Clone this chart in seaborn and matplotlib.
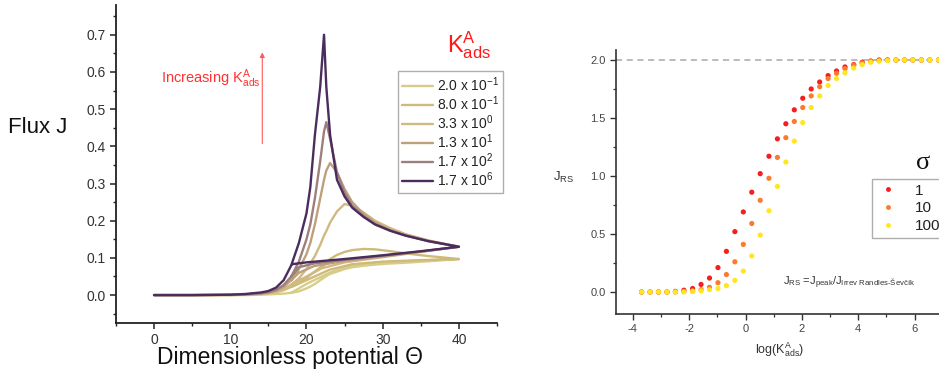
import numpy as np
import pandas as pd
import matplotlib
matplotlib.use("Agg")
import matplotlib.pyplot as plt
import seaborn as sns
from matplotlib.ticker import MultipleLocator
from matplotlib.lines import Line2D

# ---------------- left panel data (Flux J vs potential) ----------------
theta_fwd = [0, 5, 10, 12, 14, 15, 16, 17, 18, 19, 20, 20.5, 21.1, 21.8, 22.3,
             22.6, 23.1, 24, 25, 26, 27.5, 29, 31, 33, 36, 40]
J_fwd_K1 = [0, 0, 0, 0, 0.001, 0.002, 0.003, 0.004, 0.006, 0.01, 0.018, 0.023, 0.03,
            0.04, 0.047, 0.051, 0.057, 0.063, 0.07, 0.075, 0.079, 0.082, 0.085, 0.087, 0.091, 0.097]
J_fwd_K2 = [0, 0, 0, 0.001, 0.003, 0.005, 0.008, 0.013, 0.022, 0.032, 0.046, 0.054, 0.064,
            0.074, 0.08, 0.086, 0.097, 0.108, 0.116, 0.121, 0.124, 0.123, 0.118, 0.112, 0.105, 0.097]
J_fwd_K3 = [0, 0, 0, 0.002, 0.004, 0.006, 0.01, 0.017, 0.028, 0.045, 0.07, 0.085, 0.105,
            0.135, 0.16, 0.172, 0.195, 0.225, 0.245, 0.24, 0.222, 0.2, 0.18, 0.164, 0.147, 0.13]
J_fwd_K4 = [0, 0, 0.001, 0.002, 0.004, 0.007, 0.012, 0.022, 0.04, 0.07, 0.11, 0.14, 0.19,
            0.26, 0.31, 0.335, 0.355, 0.33, 0.285, 0.25, 0.218, 0.195, 0.175, 0.161, 0.146, 0.13]
J_fwd_K5 = [0, 0, 0.001, 0.002, 0.005, 0.008, 0.014, 0.027, 0.05, 0.09, 0.15, 0.19, 0.26,
            0.36, 0.44, 0.465, 0.42, 0.33, 0.275, 0.24, 0.212, 0.19, 0.173, 0.16, 0.145, 0.13]
J_fwd_K6 = [0, 0, 0.001, 0.003, 0.007, 0.011, 0.02, 0.04, 0.08, 0.14, 0.22, 0.29, 0.43,
            0.56, 0.70, 0.56, 0.43, 0.31, 0.265, 0.235, 0.21, 0.19, 0.173, 0.16, 0.145, 0.13]

theta_rev_K1 = [40, 35, 30, 26, 23, 20, 18]
J_rev_K1 = [0.097, 0.093, 0.088, 0.08, 0.06, 0.03, 0.006]
theta_rev_K2 = [40, 35, 30, 26, 23, 20, 18]
J_rev_K2 = [0.097, 0.094, 0.09, 0.083, 0.068, 0.04, 0.022]
theta_rev_K3 = [40, 35, 30, 25, 22, 20, 18]
J_rev_K3 = [0.13, 0.116, 0.102, 0.088, 0.072, 0.05, 0.028]
theta_rev_K4 = [40, 35, 30, 25, 21, 19, 18]
J_rev_K4 = [0.13, 0.117, 0.104, 0.092, 0.078, 0.06, 0.04]
theta_rev_K5 = [40, 35, 30, 25, 21, 19, 18]
J_rev_K5 = [0.13, 0.117, 0.106, 0.095, 0.085, 0.075, 0.05]
theta_rev_K6 = [40, 35, 30, 25, 20, 18.1]
J_rev_K6 = [0.13, 0.118, 0.107, 0.097, 0.088, 0.083]

k_labels = ["2.0 x 10$^{-1}$", "8.0 x 10$^{-1}$", "3.3 x 10$^{0}$",
            "1.3 x 10$^{1}$", "1.7 x 10$^{2}$", "1.7 x 10$^{6}$"]
k_colors = ["#d8cd88", "#cfbb79", "#d1b982", "#bda07b", "#9d807b", "#4b2c5e"]

# ---------------- right panel data (J_RS vs log K) ----------------
logK = [-3.69, -3.39, -3.09, -2.79, -2.49, -2.19, -1.88, -1.58, -1.28, -0.98,
        -0.68, -0.38, -0.08, 0.22, 0.52, 0.83, 1.13, 1.43, 1.73, 2.03,
        2.33, 2.63, 2.93, 3.23, 3.53, 3.84, 4.14, 4.44, 4.74, 5.04,
        5.34, 5.64, 5.94, 6.24, 6.54, 6.85, 7.15]
jrs_sigma1 = [0, 0, 0, 0, 0.005, 0.015, 0.03, 0.065, 0.12, 0.21,
              0.35, 0.52, 0.69, 0.86, 1.02, 1.17, 1.32, 1.45, 1.57, 1.67,
              1.75, 1.81, 1.865, 1.905, 1.94, 1.96, 1.98, 1.99, 2.0, 2.0,
              2.0, 2.0, 2.0, 2.0, 2.0, 2.0, 2.0]
jrs_sigma10 = [0, 0, 0, 0, 0, 0.005, 0.01, 0.02, 0.04, 0.08,
               0.15, 0.26, 0.41, 0.59, 0.79, 0.98, 1.16, 1.33, 1.47, 1.59,
               1.69, 1.77, 1.84, 1.885, 1.925, 1.955, 1.975, 1.99, 1.995, 2.0,
               2.0, 2.0, 2.0, 2.0, 2.0, 2.0, 2.0]
jrs_sigma100 = [0, 0, 0, 0, 0, 0, 0.005, 0.01, 0.02, 0.03,
                0.055, 0.10, 0.18, 0.31, 0.49, 0.70, 0.91, 1.12, 1.30, 1.46,
                1.59, 1.69, 1.78, 1.84, 1.89, 1.93, 1.96, 1.98, 1.99, 1.995,
                2.0, 2.0, 2.0, 2.0, 2.0, 2.0, 2.0]
sigma_labels = ["1", "10", "100"]
sigma_colors = ["#f51d1d", "#fb7b2c", "#ffe61e"]
jrs_limit = 2.0

# ---------------- style ----------------
sns.set_style("ticks")
plt.rcParams["font.family"] = ["Liberation Sans", "DejaVu Sans"]
plt.rcParams["mathtext.fontset"] = "custom"
plt.rcParams["mathtext.rm"] = "Liberation Sans"
plt.rcParams["mathtext.it"] = "Liberation Sans:italic"
plt.rcParams["mathtext.bf"] = "Liberation Sans:bold"
plt.rcParams["axes.unicode_minus"] = False

fig = plt.figure(figsize=(9.39, 3.79), dpi=100)

# ================= left panel =================
ax1 = fig.add_axes([0.1235, 0.1478, 0.4058, 0.839])
fwd = [J_fwd_K1, J_fwd_K2, J_fwd_K3, J_fwd_K4, J_fwd_K5, J_fwd_K6]
rev_t = [theta_rev_K1, theta_rev_K2, theta_rev_K3, theta_rev_K4, theta_rev_K5, theta_rev_K6]
rev_j = [J_rev_K1, J_rev_K2, J_rev_K3, J_rev_K4, J_rev_K5, J_rev_K6]
rows = []
for lab, jf, tr, jr in zip(k_labels, fwd, rev_t, rev_j):
    order = 0
    for t, j in zip(theta_fwd, jf):
        rows.append((lab, order, t, j)); order += 1
    for t, j in zip(tr, jr):
        rows.append((lab, order, t, j)); order += 1
dfL = pd.DataFrame(rows, columns=["K", "order", "theta", "J"])

for lab, col in zip(k_labels, k_colors):
    sub = dfL[dfL["K"] == lab].sort_values("order")
    sns.lineplot(data=sub, x="theta", y="J", sort=False, estimator=None,
                 color=col, lw=1.7, ax=ax1, label=lab)

ax1.set_xlim(-5, 45)
ax1.set_ylim(-0.075, 0.78)
ax1.xaxis.set_major_locator(MultipleLocator(10))
ax1.xaxis.set_minor_locator(MultipleLocator(5))
ax1.yaxis.set_major_locator(MultipleLocator(0.1))
ax1.yaxis.set_minor_locator(MultipleLocator(0.05))
ax1.yaxis.set_major_formatter(matplotlib.ticker.FormatStrFormatter("%.1f"))
for s in ["top", "right"]:
    ax1.spines[s].set_visible(False)
for s in ["left", "bottom"]:
    ax1.spines[s].set_color("#222222")
    ax1.spines[s].set_linewidth(1.3)
ax1.tick_params(which="major", direction="out", length=4, width=1.1,
                labelsize=10, colors="#222222", labelcolor="#333333")
ax1.tick_params(which="minor", direction="out", length=2.5, width=1.0, colors="#222222")

ax1.set_xlabel("Dimensionless potential \u0398", fontsize=16.5, color="#111111")
ax1.xaxis.set_label_coords(0.457, -0.11)
ax1.xaxis.label.set_va("center")
ax1.set_ylabel("Flux J", fontsize=16, rotation=0, color="#111111")
ax1.yaxis.set_label_coords(-0.205, 0.616)
ax1.yaxis.label.set_va("center")
ax1.yaxis.label.set_ha("center")

leg1 = ax1.legend(loc="upper left", bbox_to_anchor=(0.740, 0.793), borderaxespad=0,
                  fontsize=10, frameon=True, fancybox=False, handlelength=2.2,
                  handletextpad=0.3, labelspacing=0.03, borderpad=0.3)
leg1.get_frame().set_edgecolor("#9a9a9a")
leg1.get_frame().set_linewidth(1.0)
for t in leg1.get_texts():
    t.set_color("#222222")

ax1.text(0.869, 0.874, r"$\mathrm{K^{A}_{ads}}$", transform=ax1.transAxes,
         fontsize=17, color="#ff1a1a", ha="left", va="center")

ax1.annotate("", xy=(14.2, 0.66), xytext=(14.2, 0.40),
             arrowprops=dict(arrowstyle="-|>", color="#ff5a5a", lw=0.8,
                             mutation_scale=7))
ax1.text(13.95, 0.582, r"Increasing K$^{\mathrm{A}}_{\mathrm{ads}}$", fontsize=10.5,
         color="#ff3333", ha="right", va="center")

# ================= right panel =================
ax2 = fig.add_axes([0.656, 0.1715, 0.363, 0.6966])
rowsR = []
for lab, vals in zip(sigma_labels, [jrs_sigma1, jrs_sigma10, jrs_sigma100]):
    for x, y in zip(logK, vals):
        rowsR.append((lab, x, y))
dfR = pd.DataFrame(rowsR, columns=["sigma", "logK", "JRS"])

ax2.axhline(jrs_limit, color="#a8a8a8", lw=1.1, ls=(0, (4, 3)), zorder=0)
sns.scatterplot(data=dfR, x="logK", y="JRS", hue="sigma", hue_order=sigma_labels,
                palette=sigma_colors, s=14, edgecolor="none", linewidth=0,
                legend=False, ax=ax2, zorder=3)

ax2.set_xlim(-4.6, 7.5)
ax2.set_ylim(-0.19, 2.086)
ax2.xaxis.set_major_locator(MultipleLocator(2))
ax2.xaxis.set_minor_locator(MultipleLocator(1))
ax2.yaxis.set_major_locator(MultipleLocator(0.5))
ax2.yaxis.set_minor_locator(MultipleLocator(0.25))
ax2.yaxis.set_major_formatter(matplotlib.ticker.FormatStrFormatter("%.1f"))
for s in ["top", "right"]:
    ax2.spines[s].set_visible(False)
for s in ["left", "bottom"]:
    ax2.spines[s].set_color("#333333")
    ax2.spines[s].set_linewidth(1.2)
ax2.tick_params(which="major", direction="out", length=4, width=1.0,
                labelsize=8, colors="#333333", labelcolor="#444444")
ax2.tick_params(which="minor", direction="out", length=2.5, width=0.9, colors="#333333")

ax2.set_xlabel(r"log(K$^{\mathrm{A}}_{\mathrm{ads}}$)", fontsize=9, color="#333333")
ax2.xaxis.set_label_coords(0.481, -0.136)
ax2.xaxis.label.set_va("center")
ax2.set_ylabel(r"J$_{\mathrm{RS}}$", fontsize=9.5, rotation=0, color="#333333")
ax2.yaxis.set_label_coords(-0.1526, 0.519)
ax2.yaxis.label.set_va("center")
ax2.yaxis.label.set_ha("center")

handles = [Line2D([], [], ls="none", marker="o", markersize=3.5, markeredgewidth=0,
                  color=c) for c in sigma_colors]
leg2 = ax2.legend(handles, sigma_labels, loc="upper left", bbox_to_anchor=(0.75, 0.511),
                  borderaxespad=0, fontsize=11, frameon=True, fancybox=False,
                  handlelength=1.6, handletextpad=0.9, labelspacing=0.25, borderpad=0.3)
leg2.get_frame().set_edgecolor("#9a9a9a")
leg2.get_frame().set_linewidth(1.0)
for t in leg2.get_texts():
    t.set_color("#222222")

ax2.text(0.90, 0.572, "\u03c3", transform=ax2.transAxes, fontsize=19,
         family=["Liberation Serif", "DejaVu Serif"], color="#111111",
         ha="center", va="center")

ax2.text(0.491, 0.117,
         r"$\mathrm{J_{RS}}$ =$\mathrm{J_{peak}}$/$\mathrm{J_{Irrev\ Randles\text{-}Ševčík}}$",
         transform=ax2.transAxes, fontsize=8, color="#333333", ha="left", va="center")

fig.savefig("out.png", dpi=100)
